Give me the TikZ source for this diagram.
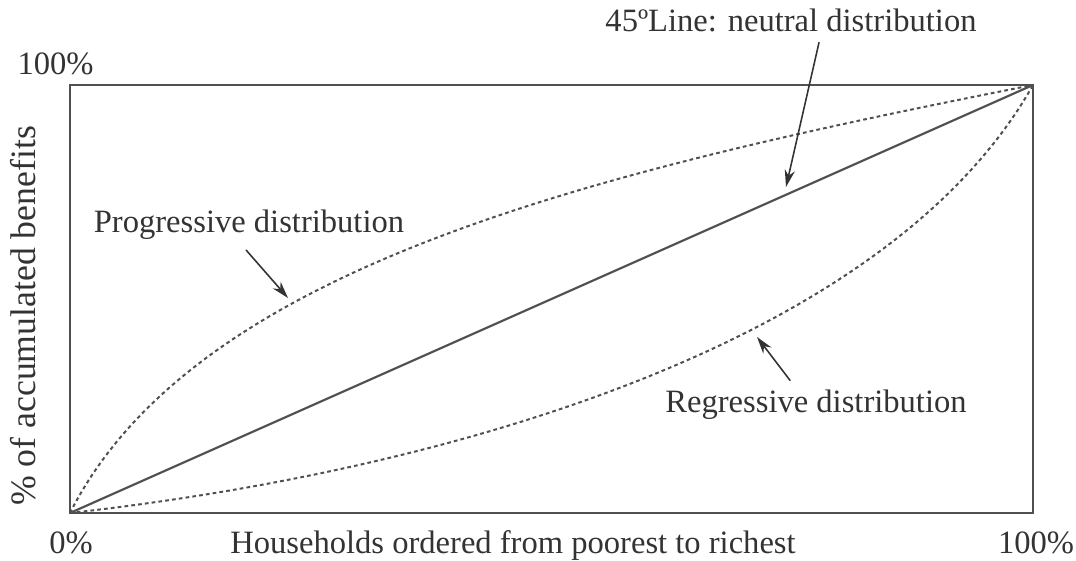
\documentclass[tikz,border=0pt]{standalone}
\usepackage{fontspec}
\setmainfont{Liberation Serif}
\usetikzlibrary{arrows.meta}
\definecolor{ink}{HTML}{333333}
\definecolor{rule}{HTML}{505050}

\begin{document}
\begin{tikzpicture}[>={Stealth[length=6pt,width=3.6pt]},x=0.35pt,y=0.35pt,line cap=round,
		lab/.style={text=ink,inner sep=3.33pt,font=\fontsize{11.4}{13}\selectfont},
		curve/.style={draw=rule,line width=0.7pt,line cap=butt,dash pattern=on 1.3pt off 1.1pt},
		pointer/.style={->,draw=ink,line width=0.55pt}]
		\useasboundingbox (0,0) rectangle (1076,561);
		\coordinate (o) at (70,48);
		\coordinate (t) at (1033,476);
		\draw[rule,line width=0.85pt] (o) rectangle (t);
		\draw[rule,line width=0.75pt] (o) -- (t);
		%progressive and regressive curves
		\draw[curve] (o) .. controls (195.2,296.2) and (599.7,390.4) .. (t);
		\draw[curve] (o) .. controls (455,91) and (888.6,219) .. (t);
		
		\node[lab,anchor=base] (hundy) at (55.5,486) {100\%};
		\node[lab,anchor=base] (zero) at (71,7) {0\%};
		\node[lab,anchor=base] (hundx) at (1036,7) {100\%};
		\node[lab,anchor=base] (xlab) at (513,7) {Households ordered from poorest to richest};
		\node[lab,anchor=base,rotate=90,font=\fontsize{12.5}{14}\selectfont] (ylab) at (36,245) {\% of accumulated benefits};
		
		\node[lab,anchor=base] (neut) at (791,529) {45ºLine: neutral distribution};
		\node[lab,anchor=base] (prog) at (249,328) {Progressive distribution};
		\node[lab,anchor=base] (regr) at (816,148) {Regressive distribution};
		
		\coordinate (neuttip) at (786,374);
		\coordinate (progtip) at (288,263);
		\coordinate (regrtip) at (757,224);
		\draw[pointer] ([xshift=9.8pt]neut.south) -- (neuttip);
		\draw[pointer] ([xshift=-1pt]prog.south) -- (progtip);
		\draw[pointer] ([xshift=-9.1pt]regr.north) -- (regrtip);
	\end{tikzpicture}
\end{document}
